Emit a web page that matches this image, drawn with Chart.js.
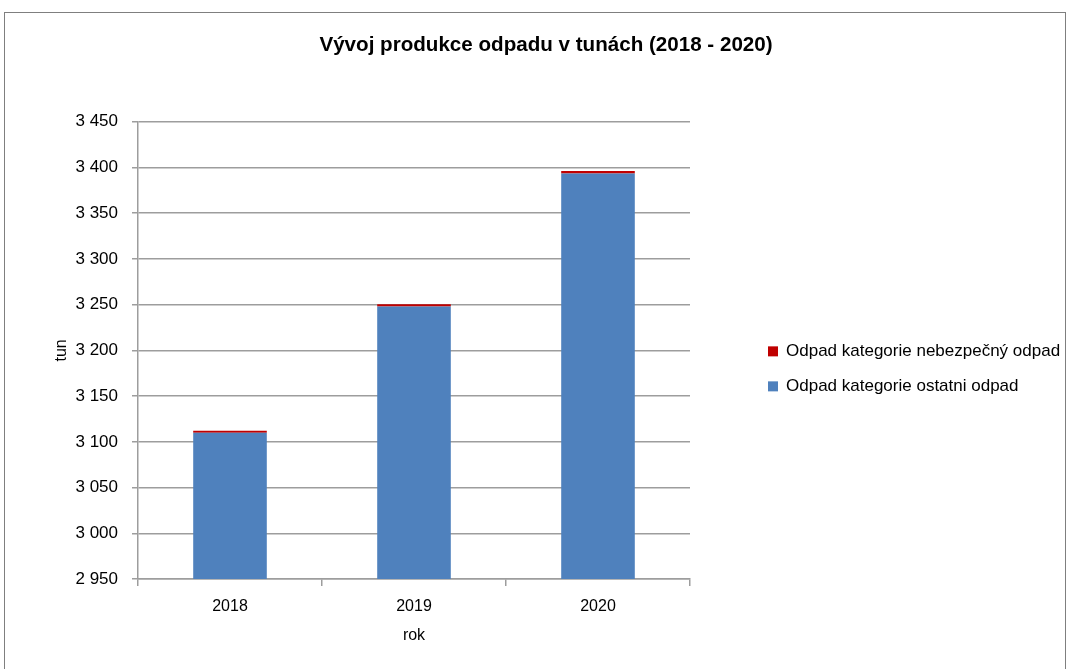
<!DOCTYPE html>
<html>
<head>
<meta charset="utf-8">
<script src="https://cdn.jsdelivr.net/npm/chart.js@4"></script>
<style>
  body { margin: 0; background: #fff; overflow: hidden; }
  #frame {
    position: absolute; left: 4px; top: 12px;
    width: 1062px; height: 700px;
    box-sizing: border-box; border: 1px solid #7f7f7f;
    overflow: hidden; background: #fff;
  }
  #chart { position: absolute; left: 0; top: 0; }
</style>
</head>
<body>
<div id="frame"><canvas id="chart" width="1060" height="656"></canvas></div>
<script>
// data (tons)
const years = ['2018', '2019', '2020'];
const ostatniOdpad = [3110, 3248, 3393.5];
const nebezpecnyOdpad = [2.2, 2.3, 2.5];

const gridGray = '#9d9d9d';
const fontFamily = "'Liberation Sans', Arial, sans-serif";

// "3450" -> "3 450"
const spaced = (v) => String(v).replace(/\B(?=(\d{3})+(?!\d))/g, ' ');

// the built-in legend gets squeezed by the layout, so draw it by hand
// to the right of the plot, top item = last dataset
const sideLegend = {
  id: 'sideLegend',
  afterDraw(chart) {
    const { ctx, chartArea } = chart;
    const x = chartArea.right + 78;
    const mid = (chartArea.top + chartArea.bottom) / 2;
    const sets = chart.data.datasets.slice().reverse();
    ctx.save();
    ctx.font = '17px ' + fontFamily;
    ctx.textBaseline = 'middle';
    ctx.textAlign = 'left';
    sets.forEach((ds, i) => {
      const y = mid + 1 + i * 35;
      ctx.fillStyle = ds.backgroundColor;
      ctx.fillRect(x, y - 5, 10, 10);
      ctx.fillStyle = '#000';
      ctx.fillText(ds.label, x + 18, y);
    });
    ctx.restore();
  },
};

const ctx = document.getElementById('chart').getContext('2d');

new Chart(ctx, {
  type: 'bar',
  data: {
    labels: years,
    datasets: [
      {
        label: 'Odpad kategorie ostatni odpad',
        data: ostatniOdpad,
        backgroundColor: '#4F81BD',
        categoryPercentage: 0.4,
        barPercentage: 1,
      },
      {
        label: 'Odpad kategorie nebezpečný odpad',
        data: nebezpecnyOdpad,
        backgroundColor: '#C00000',
        categoryPercentage: 0.4,
        barPercentage: 1,
      },
    ],
  },
  options: {
    responsive: false,
    animation: false,
    layout: { padding: { left: 22 } },
    plugins: {
      title: {
        display: true,
        text: 'Vývoj produkce odpadu v tunách (2018 - 2020)',
        color: '#000',
        font: { family: fontFamily, size: 20.6, weight: 'bold' },
        padding: { top: 20, bottom: 64 },
      },
      legend: { display: false },
      tooltip: { enabled: false },
    },
    scales: {
      x: {
        stacked: true,
        grid: {
          offset: true,
          drawOnChartArea: false,
          color: gridGray,
          lineWidth: 1.5,
          tickLength: 7,
        },
        border: { color: gridGray, width: 1.5 },
        ticks: { color: '#000', padding: 11, font: { family: fontFamily, size: 16 } },
        title: {
          display: true,
          text: 'rok',
          color: '#000',
          font: { family: fontFamily, size: 16 },
          padding: { bottom: 24 },
        },
        afterFit: (s) => { s.height = 90; },
      },
      y: {
        stacked: true,
        min: 2950,
        max: 3450,
        grid: { color: gridGray, lineWidth: 1.5, tickLength: 6 },
        border: { color: gridGray, width: 1.5 },
        ticks: {
          stepSize: 50,
          color: '#000',
          padding: 14,
          font: { family: fontFamily, size: 17 },
          callback: (v) => spaced(v),
        },
        title: {
          display: true,
          text: 'tun',
          color: '#000',
          font: { family: fontFamily, size: 16 },
          padding: { top: 25 },
        },
        afterFit: (s) => { s.width = 111; },
      },
      // empty room on the right where the legend goes
      side: {
        type: 'linear',
        position: 'right',
        grid: { display: false },
        border: { display: false },
        ticks: { display: false },
        afterFit: (s) => { s.width = 375; },
      },
    },
  },
  plugins: [sideLegend],
});
</script>
</body>
</html>
